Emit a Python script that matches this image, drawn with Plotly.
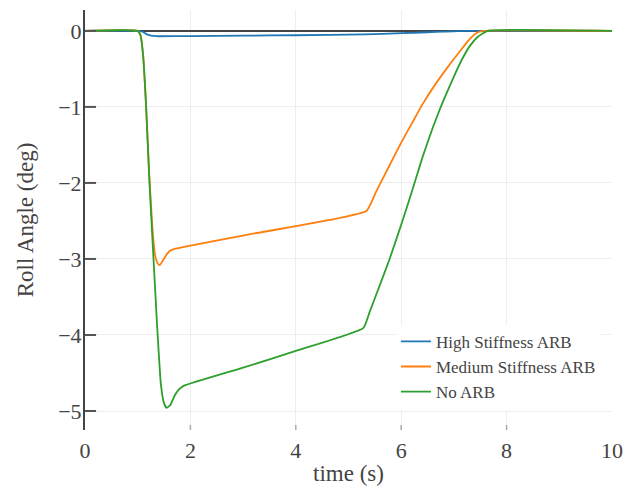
import plotly.graph_objects as go

# Data
t_high = [0, 1.0, 1.09, 1.15, 1.22, 1.3, 1.4, 2.0, 3.0, 4.0, 5.3, 6.0, 6.5, 6.8, 7.2, 10]
y_high = [0, 0, -0.01, -0.035, -0.055, -0.065, -0.07, -0.068, -0.063, -0.057, -0.045, -0.03, -0.018, -0.01, 0, 0]

t_med = [0, 1.0, 1.05, 1.1, 1.16, 1.22, 1.28, 1.33, 1.38, 1.42, 1.48, 1.55, 1.62, 1.69, 3.09, 5.34,
         5.52, 5.77, 6.0, 6.2, 6.4, 6.65, 6.9, 7.1, 7.27, 7.4, 7.55, 10]
y_med = [0, 0, -0.05, -0.3, -1.0, -1.9, -2.6, -2.95, -3.06, -3.08, -3.02, -2.94, -2.89, -2.87, -2.68, -2.37,
         -2.12, -1.78, -1.47, -1.22, -0.97, -0.7, -0.46, -0.28, -0.13, -0.04, 0, 0]

t_no = [0, 1.0, 1.05, 1.1, 1.16, 1.22, 1.3, 1.37, 1.44, 1.5, 1.55, 1.62, 1.7, 1.78, 1.87, 3.0, 4.0, 5.28,
        5.4, 5.52, 5.77, 6.0, 6.2, 6.4, 6.6, 6.78, 7.0, 7.15, 7.3, 7.45, 7.64, 10]
y_no = [0, 0, -0.05, -0.3, -1.0, -1.95, -3.0, -3.9, -4.65, -4.9, -4.96, -4.92, -4.8, -4.72, -4.67, -4.43, -4.21, -3.91,
        -3.7, -3.48, -3.02, -2.55, -2.12, -1.67, -1.27, -0.95, -0.6, -0.38, -0.2, -0.08, 0, 0]

names = ["High Stiffness ARB", "Medium Stiffness ARB", "No ARB"]
colors = ["#1f77b4", "#ff7f0e", "#2ca02c"]
x_ticks = [0, 2, 4, 6, 8, 10]
y_ticks = [0, -1, -2, -3, -4, -5]

FONT = "Liberation Serif"

fig = go.Figure()
for t, y, n, c in zip([t_high, t_med, t_no], [y_high, y_med, y_no], names, colors):
    fig.add_trace(go.Scatter(x=t, y=y, mode="lines", name=n,
                             line=dict(color=c, width=1.8, shape="spline", smoothing=0.4)))

# inside tick marks (drawn at the tick values)
for v in y_ticks:
    fig.add_shape(type="line", xref="paper", yref="y", x0=0, x1=0.021, y0=v, y1=v,
                  line=dict(color="#555555", width=2), layer="above")
for v in x_ticks[1:-1]:
    fig.add_shape(type="line", xref="x", yref="paper", x0=v, x1=v, y0=0, y1=0.012,
                  line=dict(color="#aaaaaa", width=1.5), layer="above")

fig.update_layout(
    width=633, height=491,
    margin=dict(l=85, r=14, t=10, b=59),
    paper_bgcolor="white", plot_bgcolor="white",
    font=dict(family=FONT, size=21, color="#444"),
    showlegend=True,
    legend=dict(x=0.59, xanchor="left", y=0.048, yanchor="bottom",
                bgcolor="rgba(255,255,255,0.85)", font=dict(family=FONT, size=17, color="#444"),
                tracegroupgap=0),
)
fig.update_xaxes(range=[0, 10], tickvals=x_ticks, ticktext=[str(v) for v in x_ticks],
                 showgrid=True, gridcolor="#eeeeee", gridwidth=1, zeroline=False,
                 showline=False, ticks="", ticklabelstandoff=5,
                 title=dict(text="time (s)", font=dict(family=FONT, size=23, color="#444"), standoff=2),
                 tickfont=dict(family=FONT, size=22, color="#444"))
fig.update_yaxes(range=[-5.25, 0.275], tickvals=y_ticks, ticktext=["0", "\u22121", "\u22122", "\u22123", "\u22124", "\u22125"],
                 showgrid=True, gridcolor="#eeeeee", gridwidth=1,
                 zeroline=True, zerolinecolor="#444", zerolinewidth=2,
                 showline=True, linecolor="#444", linewidth=2,
                 ticks="", ticklabelstandoff=-3,
                 title=dict(text="Roll Angle (deg)", font=dict(family=FONT, size=23, color="#444"), standoff=18),
                 tickfont=dict(family=FONT, size=22, color="#444"))

fig.write_html("out.html")
